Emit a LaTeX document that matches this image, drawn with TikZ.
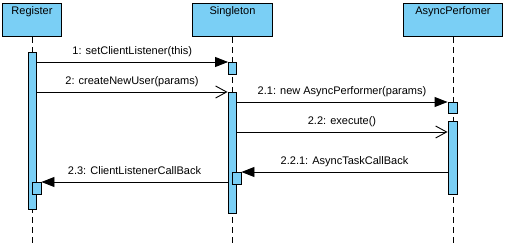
\documentclass[tikz,border=0pt]{standalone}
\usepackage{fontspec}
\setmainfont{Liberation Sans}
\usetikzlibrary{arrows.meta}
\definecolor{actblue}{RGB}{122,207,245}

\begin{document}
\begin{tikzpicture}[x=1pt,y=-1pt,line width=0.9pt,
      font=\fontsize{11}{13}\selectfont,
      lifehead/.style={draw,fill=actblue,anchor=north west,minimum height=33pt,
        inner xsep=0pt,inner ysep=3pt,text height=8pt,text depth=19pt},
      bar/.style={draw,fill=actblue,anchor=north,inner sep=0pt,minimum width=8pt},
      lifeline/.style={dash pattern=on 6pt off 4pt},
      call/.style={-{Triangle[length=13pt,width=10pt]}},
      signal/.style={-{Straight Barb[length=11pt,width=12pt]}},
      msg/.style={midway,above=4pt,inner sep=1pt,text height=8pt,text depth=2.5pt}
     ]
    \useasboundingbox (0,0) rectangle (506,246);
    \coordinate (bottom) at (0,246);

    % heads
    \node[lifehead,minimum width=59pt] (register) at (2,3) {Register};
    \node[lifehead,minimum width=80pt] (singleton) at (192,3) {Singleton};
    \node[lifehead,minimum width=99pt] (performer) at (403,3) {AsyncPerfomer};

    % lifelines
    \draw[lifeline] (register.south) -- (register.south |- bottom);
    \draw[lifeline] (singleton.south) -- (singleton.south |- bottom);
    \draw[lifeline] (performer.south) -- (performer.south |- bottom);

    % activations
    \node[bar,minimum height=157pt] (regAct) at (32,52) {};
    \node[bar,minimum height=12pt,minimum width=9pt] (regNest) at (36.5,182) {};
    \node[bar,minimum height=12pt] (sgSmall) at (232.5,62) {};
    \node[bar,minimum height=121pt] (sgMain) at (232,92) {};
    \node[bar,minimum height=12pt,minimum width=9pt] (sgNest) at (236.5,172) {};
    \node[bar,minimum height=11pt,minimum width=9pt] (apSmall) at (452.5,102) {};
    \node[bar,minimum height=73pt,minimum width=9pt] (apBig) at (452.5,121) {};
    \coordinate (execAt) at (452.5,132);

    % messages
    \draw[call] (regAct.east |- sgSmall.north) -- (sgSmall.north west)
      node[msg] (m1) {1: setClientListener(this)};
    \draw[signal] (regAct.east |- sgMain.north) -- (sgMain.north west)
      node[msg] (m2) {2: createNewUser(params)};
    \draw[call] (sgMain.east |- apSmall.north) -- (apSmall.north west)
      node[msg] (m21) {2.1: new AsyncPerformer(params)};
    \draw[signal] (sgMain.east |- execAt) -- (apBig.west |- execAt)
      node[msg] (m22) {2.2: execute()};
    \draw[call] (apBig.west |- sgNest.north) -- (sgNest.north east)
      node[msg] (m221) {2.2.1: AsyncTaskCallBack};
    \draw[call] (sgMain.west |- regNest.north) -- (regNest.north east)
      node[msg] (m23) {2.3: ClientListenerCallBack};
\end{tikzpicture}
\end{document}
